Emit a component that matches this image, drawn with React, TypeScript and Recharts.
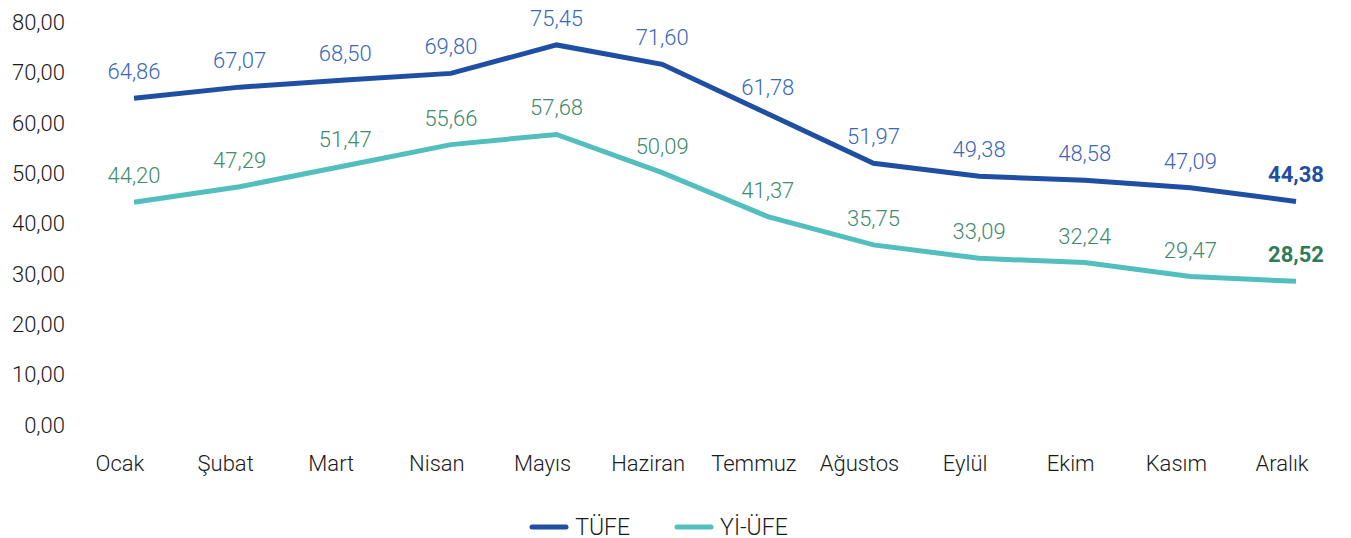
import React from "react";
import { LineChart, Line, XAxis, YAxis, Legend, LabelList } from "recharts";

const months = ["Ocak", "Şubat", "Mart", "Nisan", "Mayıs", "Haziran", "Temmuz", "Ağustos", "Eylül", "Ekim", "Kasım", "Aralık"];
const tufe = [64.86, 67.07, 68.5, 69.8, 75.45, 71.6, 61.78, 51.97, 49.38, 48.58, 47.09, 44.38];
const yiufe = [44.2, 47.29, 51.47, 55.66, 57.68, 50.09, 41.37, 35.75, 33.09, 32.24, 29.47, 28.52];
const yTicks = [0, 10, 20, 30, 40, 50, 60, 70, 80];

const data = months.map((m, i) => ({ month: m, tufe: tufe[i], yiufe: yiufe[i] }));

const fmt = (v: number) => v.toFixed(2).replace(".", ",");

const TUFE_LINE = "#1f4fa2";
const TUFE_LABEL = "#3a68b8";
const YI_LINE = "#52bebe";
const YI_LABEL = "#3f8b6c";
const YI_BOLD = "#2f7d58";
const FONT = "Roboto, sans-serif";
const FS = 22;

const makeLabel = (color: string, boldColor: string) => (props: any) => {
  const { x, y, value, index } = props;
  const last = index === months.length - 1;
  return (
    <text
      x={x}
      y={y - 19}
      textAnchor="middle"
      fontFamily={FONT}
      fontSize={FS}
      fontWeight={last ? 700 : 300}
      fill={last ? boldColor : color}
    >
      {fmt(value)}
    </text>
  );
};

const legendItems = [
  { name: "TÜFE", color: TUFE_LINE },
  { name: "Yİ-ÜFE", color: YI_LINE },
];

const renderLegend = () => (
  <div style={{ height: 22, paddingRight: 40, display: "flex", justifyContent: "center", alignItems: "center", fontFamily: FONT, fontSize: 23, fontWeight: 300, color: "#1a1a1a" }}>
    {legendItems.map((it, i) => (
      <div key={it.name} style={{ display: "flex", alignItems: "center", marginLeft: i === 0 ? 0 : 44 }}>
        <svg width={40} height={10} style={{ marginRight: 6 }}>
          <line x1={3} y1={5} x2={37} y2={5} stroke={it.color} strokeWidth={5} strokeLinecap="round" />
        </svg>
        <span>{it.name}</span>
      </div>
    ))}
  </div>
);

export default function App() {
  return (
    <div style={{ width: 1343, height: 530, background: "#fff" }}>
      <LineChart width={1343} height={530} data={data} margin={{ top: 14, right: 2, bottom: 21, left: 0 }}>
        <XAxis
          dataKey="month"
          axisLine={false}
          tickLine={false}
          tickSize={0}
          tickMargin={30}
          height={70}
          interval={0}
          padding={{ left: 53, right: 53 }}
          tick={{ fill: "#1a1a1a", fontSize: FS, fontFamily: FONT, fontWeight: 300, dx: -14 }}
        />
        <YAxis
          domain={[0, 80]}
          ticks={yTicks}
          axisLine={false}
          tickLine={false}
          tickSize={0}
          tickMargin={16}
          width={73}
          tickFormatter={fmt}
          tick={{ fill: "#1a1a1a", fontSize: FS, fontFamily: FONT, fontWeight: 300 }}
        />
        <Legend verticalAlign="bottom" content={renderLegend} wrapperStyle={{ bottom: 0 }} />
        <Line type="linear" dataKey="tufe" name="TÜFE" stroke={TUFE_LINE} strokeWidth={5} dot={false} isAnimationActive={false}>
          <LabelList dataKey="tufe" content={makeLabel(TUFE_LABEL, TUFE_LINE)} />
        </Line>
        <Line type="linear" dataKey="yiufe" name="Yİ-ÜFE" stroke={YI_LINE} strokeWidth={5} dot={false} isAnimationActive={false}>
          <LabelList dataKey="yiufe" content={makeLabel(YI_LABEL, YI_BOLD)} />
        </Line>
      </LineChart>
    </div>
  );
}
